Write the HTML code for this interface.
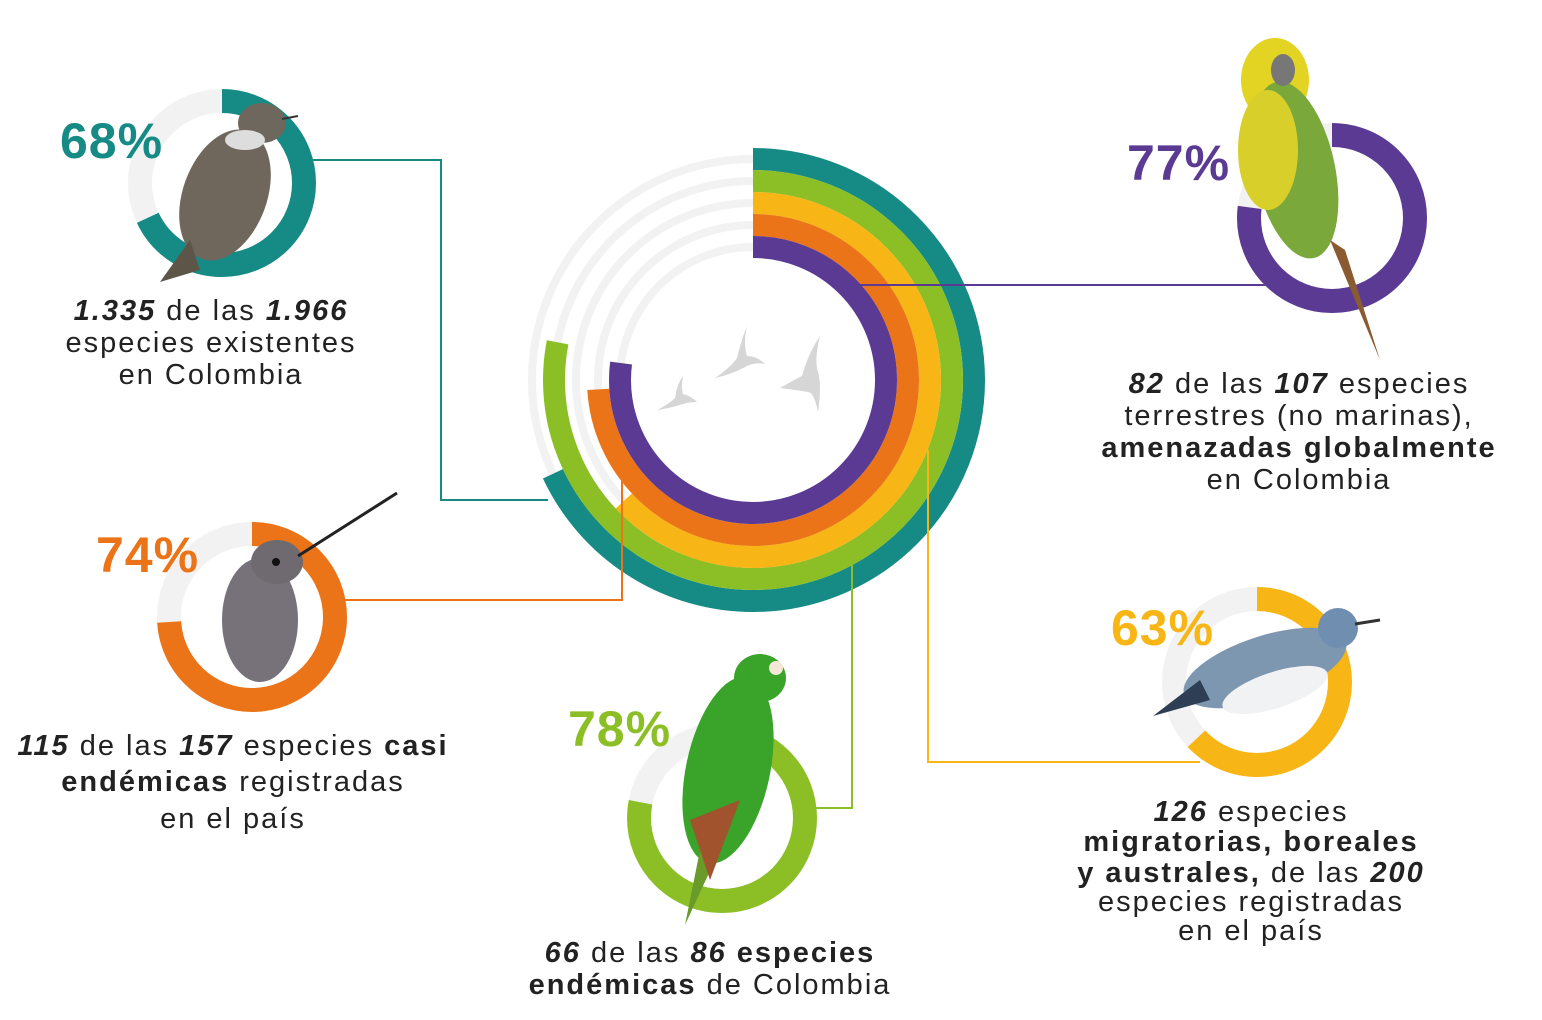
<!DOCTYPE html>
<html><head><meta charset="utf-8"><style>
html,body{margin:0;padding:0;background:#fff;}
svg{display:block;}
text{font-family:"Liberation Sans",sans-serif;fill:#222;}
.p{font-weight:bold;font-size:50px;letter-spacing:1px;}
.t{font-size:29px;text-anchor:middle;letter-spacing:2px;}
.b{font-weight:bold;}
.bi{font-weight:bold;font-style:italic;}
</style></head><body>
<svg width="1542" height="1020" viewBox="0 0 1542 1020">
<!-- central rings -->
<g transform="translate(753,380) rotate(-90)" fill="none">
 <circle r="221" stroke="#f2f2f2" stroke-width="8"/>
 <circle r="199" stroke="#f2f2f2" stroke-width="8"/>
 <circle r="177" stroke="#f2f2f2" stroke-width="8"/>
 <circle r="155" stroke="#f2f2f2" stroke-width="8"/>
 <circle r="133" stroke="#f2f2f2" stroke-width="8"/>
 <circle r="221" stroke="#168a85" stroke-width="22" stroke-dasharray="944.3 2000"/>
 <circle r="199" stroke="#8cbf26" stroke-width="22" stroke-dasharray="975.3 2000"/>
 <circle r="177" stroke="#f7b516" stroke-width="22" stroke-dasharray="700.6 2000"/>
 <circle r="155" stroke="#ea7417" stroke-width="22" stroke-dasharray="720.7 2000"/>
 <circle r="133" stroke="#5b3a94" stroke-width="22" stroke-dasharray="643.5 2000"/>
</g>
<!-- flying birds -->
<g fill="#d6d6d6">
 <path d="M715,378 q15,-10 22,-20 q5,-20 10,-32 q-4,18 0,30 q10,0 18,8 q-10,-2 -18,2 q-14,8 -32,12z"/>
 <path d="M780,388 q14,-8 22,-12 q6,-22 18,-40 q-6,24 -2,36 q4,14 0,40 q-4,-20 -10,-20 q-12,-2 -28,-4z"/>
 <path d="M657,410 q12,-6 18,-12 q2,-14 8,-22 q-2,12 0,18 q8,2 14,8 q-8,0 -14,2 q-12,4 -26,6z"/>
</g>
<!-- connectors -->
<g fill="none" stroke-width="2">
 <polyline points="300,160 441,160 441,500 548,500" stroke="#168a85"/>
 <polyline points="860,285 1268,285" stroke="#5b3a94"/>
 <polyline points="340,600 622,600 622,465" stroke="#ea7417"/>
 <polyline points="852,565 852,808 815,808" stroke="#8cbf26"/>
 <polyline points="928,450 928,762 1200,762" stroke="#f7b516"/>
</g>
<!-- small donuts -->
<g fill="none" stroke-width="24">
 <g transform="translate(222,183) rotate(-90)"><circle r="82" stroke="#f2f2f2"/><circle r="82" stroke="#168a85" stroke-dasharray="350.3 1000"/></g>
 <g transform="translate(1332,218) rotate(-90)"><circle r="83" stroke="#f2f2f2"/><circle r="83" stroke="#5b3a94" stroke-dasharray="401.6 1000"/></g>
 <g transform="translate(252,617) rotate(-90)"><circle r="83" stroke="#f2f2f2"/><circle r="83" stroke="#ea7417" stroke-dasharray="385.9 1000"/></g>
 <g transform="translate(722,818) rotate(-90)"><circle r="83" stroke="#f2f2f2"/><circle r="83" stroke="#8cbf26" stroke-dasharray="406.8 1000"/></g>
 <g transform="translate(1257,682) rotate(-90)"><circle r="83" stroke="#f2f2f2"/><circle r="83" stroke="#f7b516" stroke-dasharray="328.5 1000"/></g>
</g>
<!-- birds (approximate) -->
<g>
 <ellipse cx="225" cy="195" rx="42" ry="68" fill="#6f675c" transform="rotate(20 225 195)"/>
 <path d="M190,240 L160,282 L200,270z" fill="#5e5549"/>
 <ellipse cx="262" cy="123" rx="24" ry="20" fill="#6d675e"/>
 <ellipse cx="245" cy="140" rx="20" ry="10" fill="#ddd"/>
 <line x1="282" y1="119" x2="298" y2="116" stroke="#333" stroke-width="2"/>
 <ellipse cx="1275" cy="80" rx="34" ry="42" fill="#e3d322"/>
 <ellipse cx="1295" cy="170" rx="40" ry="90" fill="#7aa83a" transform="rotate(-12 1295 170)"/>
 <ellipse cx="1268" cy="150" rx="30" ry="60" fill="#d8cf2a"/>
 <path d="M1330,240 L1380,360 L1345,250z" fill="#8a5a30"/>
 <ellipse cx="1283" cy="70" rx="12" ry="16" fill="#777"/>
 <ellipse cx="260" cy="620" rx="38" ry="62" fill="#77717a"/>
 <ellipse cx="277" cy="562" rx="26" ry="22" fill="#6f6a70"/>
 <line x1="298" y1="556" x2="397" y2="493" stroke="#222" stroke-width="3"/>
 <circle cx="276" cy="562" r="4" fill="#111"/>
 <ellipse cx="728" cy="770" rx="42" ry="95" fill="#3aa329" transform="rotate(12 728 770)"/>
 <ellipse cx="760" cy="678" rx="26" ry="24" fill="#3aa329"/>
 <circle cx="776" cy="668" r="7" fill="#f4e7d8"/>
 <path d="M700,850 L685,925 L715,860z" fill="#6a9a2a"/>
 <path d="M690,820 L710,880 L740,800z" fill="#a0532c"/>
 <ellipse cx="1265" cy="668" rx="85" ry="32" fill="#7e97b0" transform="rotate(-18 1265 668)"/>
 <ellipse cx="1275" cy="690" rx="55" ry="18" fill="#f0f2f4" transform="rotate(-18 1275 690)"/>
 <path d="M1200,680 L1153,716 L1210,700z" fill="#2e3f55"/>
 <circle cx="1338" cy="628" r="20" fill="#6f8eb0"/>
 <line x1="1355" y1="624" x2="1380" y2="620" stroke="#333" stroke-width="3"/>
</g>
<!-- percentages -->
<text class="p" x="60" y="158" style="fill:#168a85">68%</text>
<text class="p" x="1127" y="180" style="fill:#5b3a94">77%</text>
<text class="p" x="96" y="572" style="fill:#ea7417">74%</text>
<text class="p" x="568" y="746" style="fill:#8cbf26">78%</text>
<text class="p" x="1111" y="645" style="fill:#f7b516">63%</text>
<!-- labels -->
<text class="t" x="211" y="320"><tspan class="bi">1.335</tspan> de las <tspan class="bi">1.966</tspan></text>
<text class="t" x="211" y="352">especies existentes</text>
<text class="t" x="211" y="384">en Colombia</text>

<text class="t" x="1299" y="393"><tspan class="bi">82</tspan> de las <tspan class="bi">107</tspan> especies</text>
<text class="t" x="1299" y="425">terrestres (no marinas),</text>
<text class="t b" x="1299" y="457">amenazadas globalmente</text>
<text class="t" x="1299" y="489">en Colombia</text>

<text class="t" x="233" y="755"><tspan class="bi">115</tspan> de las <tspan class="bi">157</tspan> especies <tspan class="b">casi</tspan></text>
<text class="t" x="233" y="791"><tspan class="b">endémicas</tspan> registradas</text>
<text class="t" x="233" y="828">en el país</text>

<text class="t" x="710" y="962"><tspan class="bi">66</tspan> de las <tspan class="bi">86</tspan> <tspan class="b">especies</tspan></text>
<text class="t" x="710" y="994"><tspan class="b">endémicas</tspan> de Colombia</text>

<text class="t" x="1251" y="821"><tspan class="bi">126</tspan> especies</text>
<text class="t b" x="1251" y="851">migratorias, boreales</text>
<text class="t" x="1251" y="882"><tspan class="b">y australes,</tspan> de las <tspan class="bi">200</tspan></text>
<text class="t" x="1251" y="911">especies registradas</text>
<text class="t" x="1251" y="940">en el país</text>
</svg>
</body></html>
